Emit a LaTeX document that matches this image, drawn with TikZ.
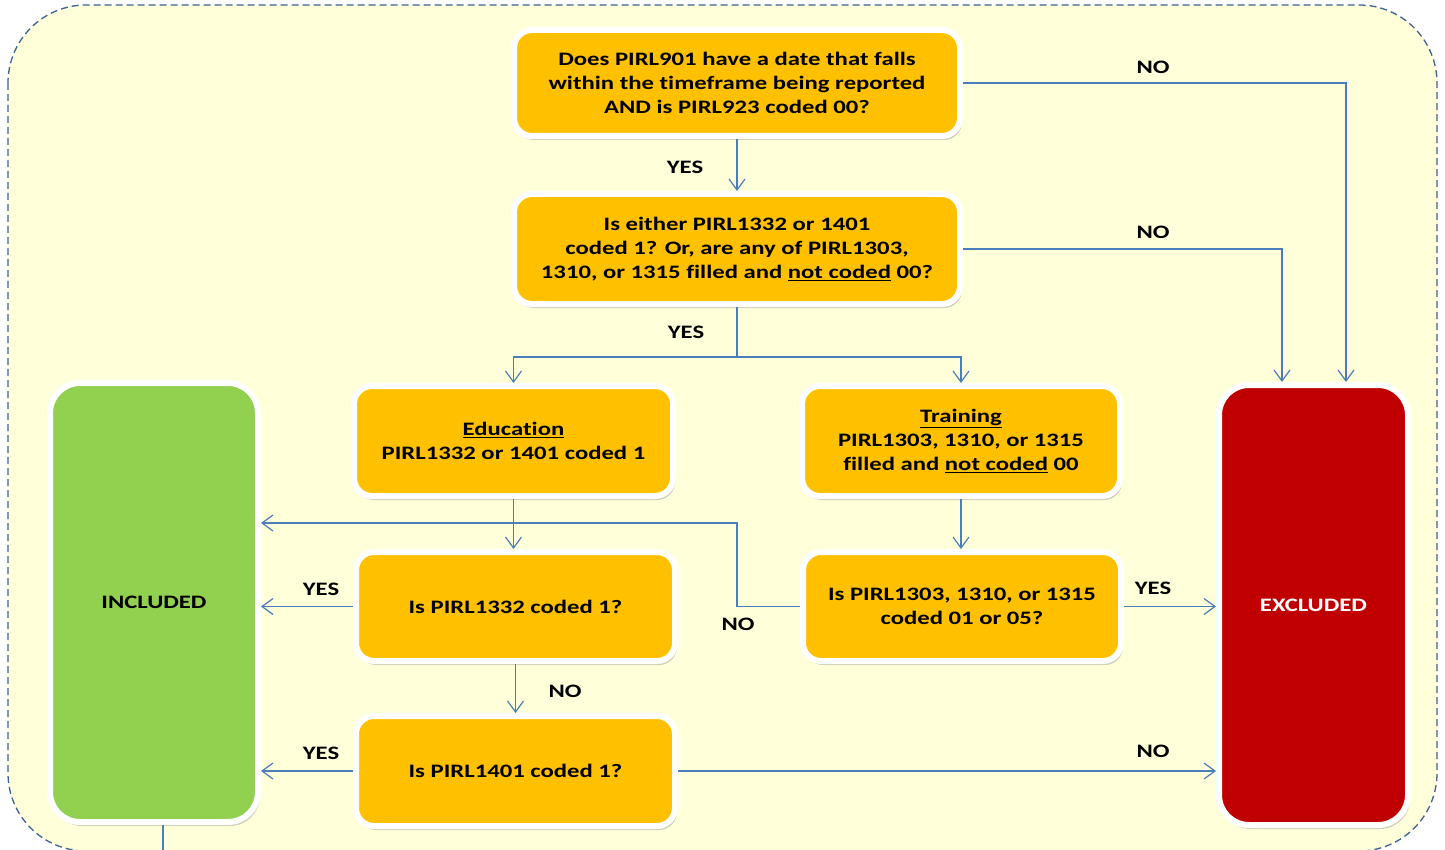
\documentclass[tikz,border=0pt]{standalone}
\usepackage{fontspec}
\setmainfont{Carlito}[FakeStretch=1.3,Ligatures=NoCommon]
\usetikzlibrary{arrows.meta,shadows}
\definecolor{bgY}{HTML}{FFFFDA}
\definecolor{frameB}{HTML}{3E6291}
\definecolor{lineB}{HTML}{4A7EBB}
\definecolor{orangeC}{HTML}{FFC000}
\definecolor{greenC}{HTML}{92D050}
\definecolor{redC}{HTML}{C00000}
\tikzset{
  boxbase/.style={draw=white, line width=6pt, inner sep=0pt, align=center,
    font=\fontsize{19}{24}\selectfont\bfseries,
    drop shadow={shadow xshift=2pt, shadow yshift=-4pt, opacity=0.3, fill=black!60}},
  qbox/.style={boxbase, fill=orangeC, rounded corners=18pt},
  endbox/.style={boxbase, rounded corners=30pt},
  conn/.style={draw=lineB, line width=1.2pt, -{Straight Barb[length=11pt,width=16pt,line width=1.2pt]}},
  plainline/.style={draw=lineB, line width=1.2pt},
  lbl/.style={font=\fontsize{19}{23}\selectfont\bfseries, inner sep=0pt},
}
\begin{document}
\begin{tikzpicture}[x=1pt,y=-1pt]
\useasboundingbox (0,0) rectangle (1445,850);
\path[fill=bgY, draw=frameB, line width=1.3pt, dash pattern=on 7pt off 4pt, rounded corners=78pt]
  (8,5) rectangle (1437,851);

\node[qbox, minimum width=446pt, minimum height=106pt] (Q1) at (737,83)
  {Does PIRL901 have a date that falls\\ within the timeframe being reported\\ AND is PIRL923 coded 00?};
\node[qbox, minimum width=446pt, minimum height=110pt] (Q2) at (737,249)
  {Is either PIRL1332 or 1401\\ coded 1? Or, are any of PIRL1303,\\ 1310, or 1315 filled and \underline{not coded} 00?};
\node[qbox, minimum width=319pt, minimum height=110pt] (Edu) at (513.5,441)
  {\underline{Education}\\ PIRL1332 or 1401 coded 1};
\node[qbox, minimum width=318pt, minimum height=110pt] (Trn) at (961,441)
  {\underline{Training}\\ PIRL1303, 1310, or 1315\\ filled and \underline{not coded} 00};
\node[qbox, minimum width=319pt, minimum height=109pt] (Q1332) at (515.5,606.5)
  {Is PIRL1332 coded 1?};
\node[qbox, minimum width=318pt, minimum height=109pt] (Q1303) at (962,606.5)
  {Is PIRL1303, 1310, or 1315\\ coded 01 or 05?};
\node[qbox, minimum width=319pt, minimum height=110pt] (Q1401) at (515.5,771)
  {Is PIRL1401 coded 1?};
\node[endbox, fill=greenC, minimum width=208pt, minimum height=439pt] (INC) at (154,602.5)
  {INCLUDED};
\node[endbox, fill=redC, text=white, minimum width=189pt, minimum height=440pt] (EXC) at (1313.5,605)
  {EXCLUDED};

\coordinate (split) at (737,357);
\coordinate (nobend) at (737,523);
\coordinate (offpage) at (163,852);

\draw[conn] (Q1.east) -| ([xshift=32.5pt]EXC.north);
\draw[conn] (Q1.south) -- (Q2.north);
\draw[conn] (Q2.east) -| ([xshift=-31.5pt]EXC.north);
\draw[plainline] (Q2.south) -- (split);
\draw[conn] (split) -| (Edu.north);
\draw[conn] (split) -| (Trn.north);
\draw[conn] (Edu.south) -- (Edu.south |- Q1332.north);
\draw[conn] (Trn.south) -- (Trn.south |- Q1303.north);
\draw[conn] (Q1303.west) -| (nobend) -- (nobend -| INC.east);
\draw[conn] (Q1303.east) -- (Q1303.east -| EXC.west);
\draw[conn] (Q1332.west) -- (Q1332.west -| INC.east);
\draw[conn] (Q1332.south) -- (Q1401.north);
\draw[conn] (Q1401.west) -- (Q1401.west -| INC.east);
\draw[conn] (Q1401.east) -- (Q1401.east -| EXC.west);
\draw[plainline] (INC.south -| offpage) -- (offpage);

\node[lbl] (l1) at (1153,67) {NO};
\node[lbl] (l2) at (685,167) {YES};
\node[lbl] (l3) at (1153,232) {NO};
\node[lbl] (l4) at (686,332) {YES};
\node[lbl] (l5) at (738,624) {NO};
\node[lbl] (l6) at (1153,588) {YES};
\node[lbl] (l7) at (321,589) {YES};
\node[lbl] (l8) at (565,691) {NO};
\node[lbl] (l9) at (321,753) {YES};
\node[lbl] (l10) at (1153,751) {NO};
\end{tikzpicture}
\end{document}
